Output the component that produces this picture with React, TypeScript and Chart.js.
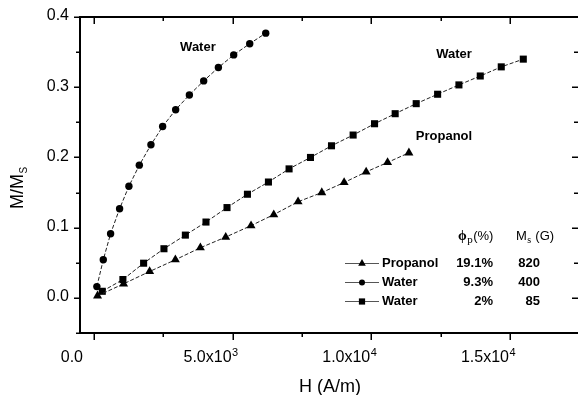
import React, { useEffect, useRef } from "react";
import { Chart, registerables } from "chart.js";

Chart.register(...registerables);

// ---- data ----
const propanolX = [133, 1072, 2010, 2937, 3839, 4752, 5665, 6484, 7360, 8215, 9020, 9814, 10586, 11355];
const propanolY = [0.003, 0.020, 0.0376, 0.0543, 0.0714, 0.0866, 0.1029, 0.1186, 0.1369, 0.150, 0.1643, 0.1794, 0.1929, 0.2066];

const water93X = [108, 339, 603, 927, 1263, 1638, 2057, 2479, 2948, 3442, 3958, 4488, 5040, 5618, 6195];
const water93Y = [0.0161, 0.0543, 0.0914, 0.127, 0.159, 0.189, 0.218, 0.244, 0.268, 0.289, 0.309, 0.328, 0.346, 0.362, 0.377];

const water2X = [303, 1046, 1793, 2526, 3298, 4041, 4799, 5535, 6292, 7036, 7808, 8565, 9345, 10117, 10860, 11618, 12390, 13158, 13927, 14684, 15478];
const water2Y = [0.0094, 0.0261, 0.0494, 0.070, 0.0894, 0.108, 0.1286, 0.1476, 0.165, 0.1837, 0.200, 0.2166, 0.2319, 0.248, 0.2623, 0.2766, 0.290, 0.3033, 0.316, 0.329, 0.340];

const xMajorTicks = [0, 5000, 10000, 15000];
const xTickMain = ["0.0", "5.0x10", "1.0x10", "1.5x10"];
const xTickExp = ["", "3", "4", "4"];
const xMinorTicks = [2500, 7500, 12500];

const yMajorTicks = [0, 0.1, 0.2, 0.3, 0.4];
const yTickLabels = ["0.0", "0.1", "0.2", "0.3", "0.4"];
const yMinorTicks = [-0.05, 0.05, 0.15, 0.25, 0.35];

const legendNames = ["Propanol", "Water", "Water"];
const legendPhi = ["19.1%", "9.3%", "2%"];
const legendMs = ["820", "400", "85"];
const legendShapes = ["triangle", "circle", "rect"];

const annotationTexts = ["Water", "Water", "Propanol"];
const annotationX = [3750, 12980, 12620];
const annotationY = [0.3565, 0.3465, 0.2305];

const SANS = '"Liberation Sans", Arial, sans-serif';
const SERIF = '"Liberation Serif", "Times New Roman", serif';

function pts(xs: number[], ys: number[]) {
  return xs.map((x, i) => ({ x, y: ys[i] }));
}

function drawShape(ctx: CanvasRenderingContext2D, shape: string, x: number, y: number, r: number) {
  ctx.beginPath();
  if (shape === "circle") {
    ctx.arc(x, y, r, 0, Math.PI * 2);
  } else if (shape === "rect") {
    const s = r * Math.SQRT1_2;
    ctx.rect(x - s, y - s, 2 * s, 2 * s);
  } else {
    const h = r;
    ctx.moveTo(x, y - h);
    ctx.lineTo(x + h * 0.866, y + h * 0.5);
    ctx.lineTo(x - h * 0.866, y + h * 0.5);
    ctx.closePath();
  }
  ctx.fill();
}

const decorPlugin = {
  id: "decor",
  afterDraw(chart: any) {
    const ctx: CanvasRenderingContext2D = chart.ctx;
    const xs = chart.scales.x;
    const ys = chart.scales.y;
    const a = chart.chartArea;
    ctx.save();
    ctx.strokeStyle = "#000";
    ctx.fillStyle = "#000";
    // frame (left, top, bottom)
    ctx.lineWidth = 2;
    ctx.beginPath();
    ctx.moveTo(a.left, a.bottom);
    ctx.lineTo(a.left, a.top);
    ctx.lineTo(a.right, a.top);
    ctx.moveTo(a.left - 1, a.bottom);
    ctx.lineTo(a.right, a.bottom);
    ctx.stroke();

    ctx.lineWidth = 1.5;
    ctx.beginPath();
    xMajorTicks.forEach((v) => {
      const px = Math.round(xs.getPixelForValue(v)) + 0.25;
      ctx.moveTo(px, a.bottom);
      ctx.lineTo(px, a.bottom + 7);
      ctx.moveTo(px, a.top);
      ctx.lineTo(px, a.top + 7);
    });
    xMinorTicks.forEach((v) => {
      const px = Math.round(xs.getPixelForValue(v)) + 0.25;
      ctx.moveTo(px, a.bottom);
      ctx.lineTo(px, a.bottom + 4);
      ctx.moveTo(px, a.top);
      ctx.lineTo(px, a.top + 4);
    });
    yMajorTicks.forEach((v) => {
      const py = Math.round(ys.getPixelForValue(v)) + 0.25;
      ctx.moveTo(a.left, py);
      ctx.lineTo(a.left - 6, py);
      ctx.moveTo(a.right, py);
      ctx.lineTo(a.right - 6, py);
    });
    yMinorTicks.forEach((v) => {
      const py = Math.round(ys.getPixelForValue(v)) + 0.25;
      ctx.moveTo(a.left, py);
      ctx.lineTo(a.left - 4, py);
      ctx.moveTo(a.right, py);
      ctx.lineTo(a.right - 4, py);
    });
    ctx.stroke();

    // y tick labels
    ctx.font = `16px ${SANS}`;
    ctx.textAlign = "right";
    ctx.textBaseline = "middle";
    yMajorTicks.forEach((v, i) => {
      ctx.fillText(yTickLabels[i], 69, ys.getPixelForValue(v) - 1);
    });

    // x tick labels with superscripts
    ctx.textBaseline = "alphabetic";
    ctx.textAlign = "left";
    xMajorTicks.forEach((v, i) => {
      ctx.font = `16px ${SANS}`;
      const wMain = ctx.measureText(xTickMain[i]).width;
      ctx.font = `11px ${SANS}`;
      const wExp = xTickExp[i] ? ctx.measureText(xTickExp[i]).width : 0;
      const cx = xs.getPixelForValue(v) - 22;
      const sx = cx - (wMain + wExp) / 2;
      ctx.font = `16px ${SANS}`;
      ctx.fillText(xTickMain[i], sx, 362);
      if (xTickExp[i]) {
        ctx.font = `11px ${SANS}`;
        ctx.fillText(xTickExp[i], sx + wMain + 0.5, 356);
      }
    });

    // axis titles
    ctx.font = `18px ${SANS}`;
    ctx.textAlign = "center";
    ctx.fillText("H (A/m)", (a.left + a.right) / 2 + 1, 392);

    ctx.save();
    ctx.translate(23, 209);
    ctx.rotate(-Math.PI / 2);
    ctx.textAlign = "left";
    ctx.font = `18px ${SANS}`;
    ctx.fillText("M/M", 0, 0);
    const wM = ctx.measureText("M/M").width;
    ctx.font = `10px ${SANS}`;
    ctx.fillText("S", wM + 0.5, 4);
    ctx.restore();

    // annotations
    ctx.font = `bold 13px ${SANS}`;
    ctx.textAlign = "center";
    ctx.textBaseline = "middle";
    annotationTexts.forEach((t, i) => {
      ctx.fillText(t, xs.getPixelForValue(annotationX[i]), ys.getPixelForValue(annotationY[i]));
    });

    // legend table header
    ctx.textAlign = "left";
    ctx.textBaseline = "alphabetic";
    let hx = 458;
    const hy = 240;
    ctx.font = `bold 14px ${SERIF}`;
    ctx.fillText("\u03D5", hx, hy);
    hx += ctx.measureText("\u03D5").width;
    ctx.font = `11px ${SERIF}`;
    ctx.fillText("p", hx + 0.5, hy + 3);
    hx += ctx.measureText("p").width + 1;
    ctx.font = `13px ${SANS}`;
    ctx.fillText("(%)", hx, hy);

    let mx = 516;
    ctx.font = `13px ${SANS}`;
    ctx.fillText("M", mx, hy);
    mx += ctx.measureText("M").width;
    ctx.font = `10px ${SERIF}`;
    ctx.fillText("s", mx + 0.5, hy + 3);
    mx += ctx.measureText("s").width + 1;
    ctx.font = `13px ${SANS}`;
    ctx.fillText(" (G)", mx, hy);

    // legend rows
    const rowY = [263, 282, 301];
    legendNames.forEach((name, i) => {
      const y = rowY[i];
      ctx.strokeStyle = "#555";
      ctx.lineWidth = 1;
      ctx.beginPath();
      ctx.moveTo(345, y + 0.5);
      ctx.lineTo(379, y + 0.5);
      ctx.stroke();
      ctx.fillStyle = "#000";
      drawShape(ctx, legendShapes[i], 362, y + 0.5, legendShapes[i] === "circle" ? 3 : 4.4);
      ctx.font = `bold 13px ${SANS}`;
      ctx.textBaseline = "middle";
      ctx.textAlign = "left";
      ctx.fillText(name, 382, y + 0.5);
      ctx.textAlign = "right";
      ctx.fillText(legendPhi[i], 493, y + 0.5);
      ctx.fillText(legendMs[i], 540, y + 0.5);
    });
    ctx.restore();
  },
};

export default function App() {
  const ref = useRef<HTMLCanvasElement | null>(null);

  useEffect(() => {
    document.body.style.margin = "0";
    const canvas = ref.current;
    if (!canvas) return;
    const common = {
      showLine: true,
      borderColor: "#222",
      borderWidth: 1,
      borderDash: [4, 2],
      pointBackgroundColor: "#000",
      pointBorderColor: "#000",
      pointBorderWidth: 0,
      tension: 0,
    };
    const chart = new Chart(canvas, {
      type: "scatter",
      data: {
        datasets: [
          { ...common, label: "Propanol", data: pts(propanolX, propanolY), pointStyle: "triangle", pointRadius: 5.2 },
          { ...common, label: "Water 9.3%", data: pts(water93X, water93Y), pointStyle: "circle", pointRadius: 3.7 },
          { ...common, label: "Water 2%", data: pts(water2X, water2Y), pointStyle: "rect", pointRadius: 5 },
        ],
      },
      options: {
        responsive: false,
        animation: false,
        devicePixelRatio: 1,
        layout: { autoPadding: false, padding: { left: 80, right: 0, top: 17, bottom: 62 } },
        plugins: { legend: { display: false }, tooltip: { enabled: false } },
        scales: {
          x: { type: "linear", min: -500, max: 17450, display: false },
          y: { type: "linear", min: -0.05, max: 0.4, display: false },
        },
      },
      plugins: [decorPlugin],
    } as any);
    return () => chart.destroy();
  }, []);

  return (
    <div style={{ width: 578, height: 395, background: "#fff" }}>
      <canvas ref={ref} width={578} height={395} style={{ display: "block" }} />
    </div>
  );
}
